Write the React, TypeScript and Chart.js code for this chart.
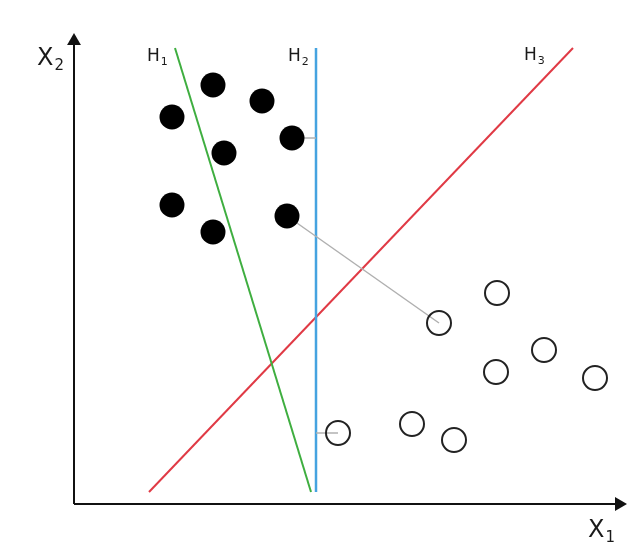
import React, { useEffect, useRef } from "react";
import { Chart, registerables } from "chart.js";

Chart.register(...registerables);

// Class A (filled) points: [x1, x2]
const classA: [number, number][] = [
  [98, 387], [139, 419], [188, 403], [218, 366],
  [150, 351], [98, 299], [139, 272], [213, 288],
];
// Class B (open) points
const classB: [number, number][] = [
  [423, 211], [365, 181], [470, 154], [422, 132],
  [521, 126], [264, 71], [338, 80], [380, 64],
];
// Hyperplanes (segments)
const h1: [number, number][] = [[101, 456], [237, 12]];
const h2: [number, number][] = [[242, 456], [242, 12]];
const h3: [number, number][] = [[75, 12], [499, 456]];
// Margin connectors
const connA: [number, number][] = [[213, 288], [365, 181]];
const connB: [number, number][] = [[218, 366], [242, 366]];
const connC: [number, number][] = [[242, 71], [264, 71]];
// Axes
const xAxisLine: [number, number][] = [[0, 0], [545, 0]];
const yAxisLine: [number, number][] = [[0, 0], [0, 463]];
// Labels: main text, subscript, anchor, size
const labelMain = ["H", "H", "H", "X", "X"];
const labelSub = ["1", "2", "3", "2", "1"];
const labelAt: [number, number][] = [[73, 443], [214, 443], [450, 444], [-37, 439], [514, -33]];
const labelBig = [false, false, false, true, true];

const pts = (a: [number, number][]) => a.map(([x, y]) => ({ x, y }));

const labelPlugin = {
  id: "svmLabels",
  afterDatasetsDraw(chart: any) {
    const ctx = chart.ctx;
    const xs = chart.scales.x;
    const ys = chart.scales.y;
    ctx.save();
    ctx.fillStyle = "#1a1a1a";
    ctx.textBaseline = "alphabetic";
    labelMain.forEach((t, i) => {
      const px = xs.getPixelForValue(labelAt[i][0]);
      const py = ys.getPixelForValue(labelAt[i][1]);
      const big = labelBig[i];
      ctx.font = `${big ? 24 : 17}px "DejaVu Sans"`;
      ctx.fillText(t, px, py);
      const w = ctx.measureText(t).width;
      ctx.font = `${big ? 15 : 11}px "DejaVu Sans"`;
      ctx.fillText(labelSub[i], px + w + 1, py + (big ? 5 : 4));
    });
    ctx.restore();
  },
};

export default function App() {
  const ref = useRef<HTMLCanvasElement>(null);
  useEffect(() => {
    if (!ref.current) return;
    const seg = (data: [number, number][], color: string, width: number, order: number) => ({
      type: "line" as const,
      data: pts(data),
      borderColor: color,
      borderWidth: width,
      pointRadius: 0,
      showLine: true,
      fill: false,
      order,
    });
    const chart = new Chart(ref.current, {
      type: "scatter",
      data: {
        datasets: [
          {
            type: "line",
            data: pts(xAxisLine),
            borderColor: "#111",
            backgroundColor: "#111",
            borderWidth: 2,
            pointRadius: [0, 8],
            pointStyle: "triangle",
            rotation: 90,
            pointBorderWidth: 0,
            showLine: true,
            order: 5,
          } as any,
          {
            type: "line",
            data: pts(yAxisLine),
            borderColor: "#111",
            backgroundColor: "#111",
            borderWidth: 2,
            pointRadius: [0, 8],
            pointStyle: "triangle",
            rotation: 0,
            pointBorderWidth: 0,
            showLine: true,
            order: 5,
          } as any,
          seg(h1, "#3fae40", 2, 4),
          seg(h2, "#45a3e0", 2.5, 4),
          seg(h3, "#e03a45", 2, 4),
          seg(connA, "#b0b0b0", 1.5, 3),
          seg(connB, "#b0b0b0", 1.5, 3),
          seg(connC, "#b0b0b0", 1.5, 3),
          {
            data: pts(classA),
            backgroundColor: "#000",
            borderWidth: 0,
            pointRadius: 12.5,
            pointHoverRadius: 12.5,
            order: 1,
          },
          {
            data: pts(classB),
            backgroundColor: "rgba(0,0,0,0)",
            borderColor: "#222",
            borderWidth: 2,
            pointRadius: 12,
            pointHoverRadius: 12,
            order: 1,
          },
        ],
      },
      options: {
        animation: false,
        responsive: false,
        events: [],
        layout: { padding: 0, autoPadding: false },
        plugins: { legend: { display: false }, tooltip: { enabled: false } },
        elements: { line: { tension: 0 } },
        scales: {
          x: { type: "linear", min: -74, max: 568, display: false },
          y: { type: "linear", min: -46, max: 504, display: false },
        },
      },
      plugins: [labelPlugin],
    });
    return () => chart.destroy();
  }, []);
  return (
    <div style={{ position: "fixed", left: 0, top: 0, width: 642, height: 550, background: "#fff" }}>
      <canvas ref={ref} width={642} height={550} />
    </div>
  );
}
